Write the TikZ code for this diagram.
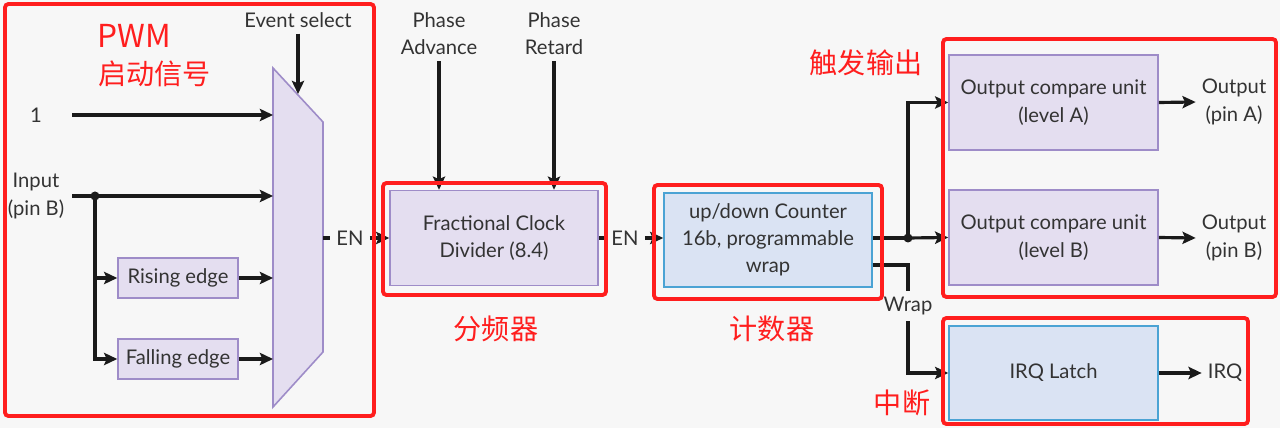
\documentclass[tikz,border=0pt]{standalone}
\usepackage{fontspec}
\setmainfont{Lato}
\newfontfamily\cjk{Noto Sans CJK SC}
\usetikzlibrary{arrows.meta,positioning}
\definecolor{PageBg}{HTML}{F7F7F7}
\definecolor{TextGray}{HTML}{333333}
\definecolor{WireBlack}{HTML}{1A1A1A}
\definecolor{LavFill}{HTML}{E4DEF0}
\definecolor{LavLine}{HTML}{9E8CC8}
\definecolor{BlueFill}{HTML}{DAE3F3}
\definecolor{BlueLine}{HTML}{4BA3D4}
\definecolor{MarkRed}{HTML}{FF1E1E}
\tikzset{
    lbl/.style={text=TextGray,align=center,font=\fontsize{11.5}{15.5}\selectfont},
    lavBlock/.style={lbl,draw=LavLine,fill=LavFill,line width=0.9pt,inner sep=0pt},
    blueBlock/.style={lavBlock,draw=BlueLine,fill=BlueFill},
    wire/.style={draw=WireBlack,line width=1.8pt},
    sig/.style={wire,-{Stealth[length=7.5pt,width=7pt,inset=1.5pt]}},
    redFrame/.style={draw=MarkRed,line width=2.2pt,rounded corners=2pt},
    redNote/.style={text=MarkRed,font=\cjk\fontsize{16}{18}\selectfont,inner sep=0pt},
}
\newcommand\RedFrame[4]{%
    \draw[redFrame] (#1,#2) rectangle (#3,#4);
}

\begin{document}
\begin{tikzpicture}[x=0.02cm,y=-0.02cm]
    \fill[PageBg] (0,0) rectangle (1280,428);
    \useasboundingbox (0,0) rectangle (1280,428);

    % event select mux
    \draw[draw=LavLine,fill=LavFill,line width=0.9pt]
        (273,68) coordinate (MuxTL) -- (323,122) -- (323,352) -- (273,407) -- cycle;
    \coordinate (MuxOut) at (323,238);
    \coordinate (EvHit) at (298,94);
    \node[lbl] (EvSel) at (298,20) {Event select};
    \draw[sig] (EvSel.south) -- (EvHit);

    \node[lbl] (One) at (36,115) {1};
    \node[lbl] (InputB) at (36,196) {Input\\(pin B)};
    \coordinate (OneStart) at (72,115);
    \coordinate (InStart) at (72,196);
    \coordinate (Split) at (95,196);
    \node[lavBlock,minimum width=2.4cm,minimum height=0.8cm] (RiseEdge) at (178,278) {Rising edge};
    \node[lavBlock,minimum width=2.4cm,minimum height=0.8cm] (FallEdge) at (178,359) {Falling edge};

    \draw[sig] (OneStart) -- (OneStart -| MuxTL);
    \draw[sig] (InStart) -- (InStart -| MuxTL);
    \draw[sig] (Split) |- (RiseEdge.west);
    \draw[sig] (Split) |- (FallEdge.west);
    \fill[WireBlack] (Split) circle[radius=4.5];
    \draw[sig] (RiseEdge.east) -- (RiseEdge.east -| MuxTL);
    \draw[sig] (FallEdge.east) -- (FallEdge.east -| MuxTL);

    % divider and counter
    \node[lavBlock,minimum width=4.16cm,minimum height=1.9cm] (FracDiv) at (494,238) {Fractional Clock\\Divider (8.4)};
    \node[blueBlock,minimum width=4.16cm,minimum height=1.88cm] (Counter) at (768,240) {up/down Counter\\16b, programmable\\wrap};
    \node[lbl] (PhAdv) at (439,34) {Phase\\Advance};
    \node[lbl] (PhRet) at (554,34) {Phase\\Retard};
    \draw[sig] (PhAdv.south) -- (PhAdv.south |- FracDiv.north);
    \draw[sig] (PhRet.south) -- (PhRet.south |- FracDiv.north);

    \node[lbl] (EnA) at (350,238) {EN};
    \draw[wire] (MuxOut) -- (EnA.west);
    \draw[sig] (EnA.east) -- (FracDiv.west);
    \node[lbl] (EnB) at (625,238) {EN};
    \draw[wire] (FracDiv.east) -- (EnB.west);
    \draw[sig] (EnB.east) -- (Counter.west |- EnB);

    % compare units and irq
    \node[lavBlock,minimum width=4.18cm,minimum height=1.9cm] (CmpA) at (1053.5,102.5) {Output compare unit\\(level A)};
    \node[lavBlock,minimum width=4.18cm,minimum height=1.9cm] (CmpB) at (1053.5,237.5) {Output compare unit\\(level B)};
    \node[blueBlock,minimum width=4.18cm,minimum height=1.88cm] (IrqLatch) at (1053.5,373) {IRQ Latch};

    \coordinate (Tap) at (908,238);
    \draw[wire] (Counter.east |- Tap) -- (Tap);
    \draw[sig] (Tap) -- (CmpB.west);
    \draw[sig] (Tap) |- (CmpA.west);
    \fill[WireBlack] (Tap) circle[radius=4.5];
    \node[lbl] (Wrap) at (908,306) {Wrap};
    \draw[wire] (Counter.east |- 0,265) -| (Wrap.north);
    \draw[sig] (Wrap.south) |- (IrqLatch.west);

    \node[lbl] (PinA) at (1234,102) {Output\\(pin A)};
    \node[lbl] (PinB) at (1234,238) {Output\\(pin B)};
    \node[lbl] (IrqOut) at (1225,373) {IRQ};
    \draw[sig] (CmpA.east) -- (PinA.west);
    \draw[sig] (CmpB.east) -- (PinB.west);
    \draw[sig] (IrqLatch.east) -- (IrqOut.west);

    % red notes
    \RedFrame{5}{4}{374}{416}
    \RedFrame{383}{183}{606}{295}
    \RedFrame{654}{185}{882}{299}
    \RedFrame{943}{39}{1276}{297}
    \RedFrame{943}{318}{1248}{424}
    \node[redNote,anchor=west,font=\cjk\fontsize{18}{18}\selectfont] at (97,36) {PWM};
    \node[redNote,anchor=west] at (98,74) {启动信号};
    \node[redNote] at (866,63) {触发输出};
    \node[redNote] at (496,329) {分频器};
    \node[redNote] at (772,329) {计数器};
    \node[redNote] at (902,403) {中断};
\end{tikzpicture}
\end{document}
